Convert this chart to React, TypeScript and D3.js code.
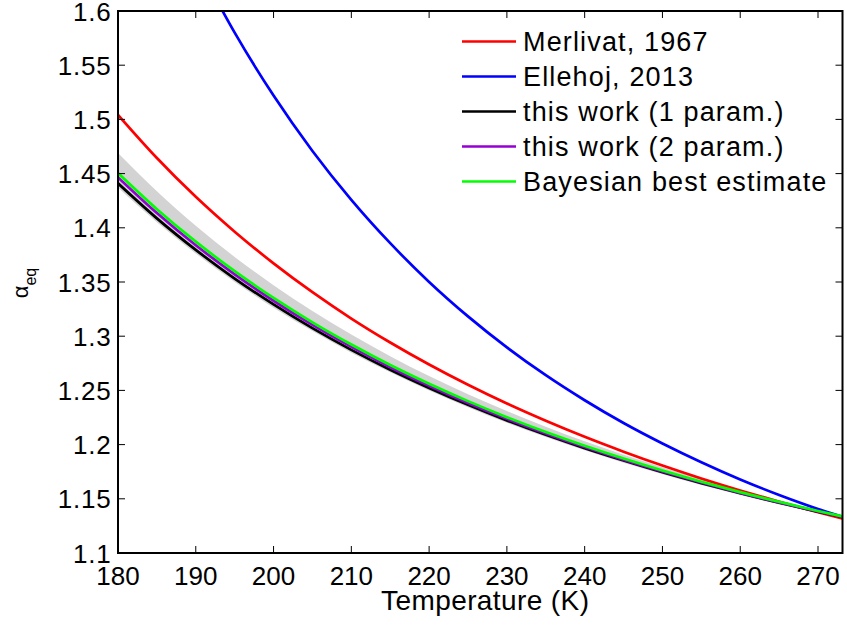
import React from "react";
import * as d3 from "d3";

const temps = [180, 185, 190, 195, 200, 205, 210, 215, 220, 225, 230, 235, 240, 245, 250, 255, 260, 265, 270, 273.15];
const merlivat = [1.5042, 1.4644, 1.4286, 1.3964, 1.3672, 1.3406, 1.3163, 1.2942, 1.2739, 1.2552, 1.2379, 1.2220, 1.2072, 1.1935, 1.1807, 1.1688, 1.1577, 1.1473, 1.1376, 1.1318];
const ellehoj = [1.6464, 1.5800, 1.5220, 1.4709, 1.4258, 1.3858, 1.3501, 1.3183, 1.2897, 1.2640, 1.2409, 1.2199, 1.2010, 1.1837, 1.1678, 1.1535, 1.1406, 1.1334];
const ellehojTemps = [190, 195, 200, 205, 210, 215, 220, 225, 230, 235, 240, 245, 250, 255, 260, 265, 270, 273.15];
const work1 = [1.4410, 1.4087, 1.3796, 1.3532, 1.3293, 1.3074, 1.2874, 1.2691, 1.2523, 1.2367, 1.2223, 1.2090, 1.1967, 1.1853, 1.1745, 1.1645, 1.1551, 1.1464, 1.1382, 1.1332];
const work2 = [1.4465, 1.4136, 1.3839, 1.3571, 1.3327, 1.3104, 1.2901, 1.2714, 1.2543, 1.2384, 1.2238, 1.2103, 1.1977, 1.1860, 1.1752, 1.1650, 1.1555, 1.1466, 1.1383, 1.1333];
const bayes = [1.4505, 1.4172, 1.3872, 1.3600, 1.3353, 1.3128, 1.2923, 1.2734, 1.2561, 1.2401, 1.2253, 1.2116, 1.1989, 1.1871, 1.1761, 1.1658, 1.1562, 1.1473, 1.1388, 1.1338];
const bandUpper = [1.4691, 1.4337, 1.4019, 1.3731, 1.3470, 1.3233, 1.3015, 1.2816, 1.2633, 1.2465, 1.2309, 1.2165, 1.2031, 1.1907, 1.1792, 1.1684, 1.1583, 1.1489, 1.1400, 1.1347];
const bandLower = [1.4371, 1.4051, 1.3763, 1.3501, 1.3263, 1.3047, 1.2848, 1.2667, 1.2499, 1.2345, 1.2202, 1.2070, 1.1948, 1.1833, 1.1727, 1.1628, 1.1535, 1.1448, 1.1367, 1.1318];

const xTicks = [180, 190, 200, 210, 220, 230, 240, 250, 260, 270];
const yTicks = [1.1, 1.15, 1.2, 1.25, 1.3, 1.35, 1.4, 1.45, 1.5, 1.55, 1.6];
const legendLabels = ["Merlivat, 1967", "Ellehoj, 2013", "this work (1 param.)", "this work (2 param.)", "Bayesian best estimate"];
const legendColors = ["#ff0000", "#0000ff", "#000000", "#9400d3", "#00ff00"];

const W = 847;
const H = 629;
const L = 118, R = 842.5, T = 11, B = 553;
const FONT = "'Liberation Sans', Arial, Helvetica, sans-serif";

export default function App() {
  const x = d3.scaleLinear().domain([180, 273.15]).range([L, R]);
  const y = d3.scaleLinear().domain([1.1, 1.6]).range([B, T]);

  const line = (xs: number[], ys: number[]) =>
    d3.line<number>().x((_, i) => x(xs[i])).y((d) => y(d)).curve(d3.curveMonotoneX)(ys) || "";

  const area = d3
    .area<number>()
    .x((t) => x(t))
    .y0((_, i) => y(bandLower[i]))
    .y1((_, i) => y(bandUpper[i]))
    .curve(d3.curveMonotoneX)(temps) || "";

  const series = [
    { xs: temps, ys: merlivat, c: legendColors[0] },
    { xs: ellehojTemps, ys: ellehoj, c: legendColors[1] },
    { xs: temps, ys: work1, c: legendColors[2] },
    { xs: temps, ys: work2, c: legendColors[3] },
    { xs: temps, ys: bayes, c: legendColors[4] },
  ];

  const tickLen = 7;

  return (
    <svg width={W} height={H} style={{ position: "absolute", left: 0, top: 0, background: "#fff" }} fontFamily={FONT}>
      <rect x={0} y={0} width={W} height={H} fill="#fff" />
      <defs>
        <clipPath id="plotclip">
          <rect x={L} y={T} width={R - L} height={B - T} />
        </clipPath>
      </defs>
      <g clipPath="url(#plotclip)">
        <path d={area} fill="#d3d3d3" stroke="none" />
        {series.map((s, i) => (
          <path key={i} d={line(s.xs, s.ys)} fill="none" stroke={s.c} strokeWidth={2.7} />
        ))}
      </g>
      {xTicks.map((t) => (
        <g key={"xt" + t}>
          <line x1={x(t)} x2={x(t)} y1={B} y2={B - tickLen} stroke="#000" strokeWidth={1} />
          <line x1={x(t)} x2={x(t)} y1={T} y2={T + tickLen} stroke="#000" strokeWidth={1} />
          <text x={x(t)} y={585} fontSize={26} textAnchor="middle" fill="#000">{t}</text>
        </g>
      ))}
      {yTicks.map((t) => (
        <g key={"yt" + t}>
          <line x1={L} x2={L + tickLen} y1={y(t)} y2={y(t)} stroke="#000" strokeWidth={1} />
          <line x1={R} x2={R - tickLen} y1={y(t)} y2={y(t)} stroke="#000" strokeWidth={1} />
          <text x={111.5} y={y(t) + 9.5} fontSize={26} letterSpacing={0.8} textAnchor="end" fill="#000">{String(t)}</text>
        </g>
      ))}
      <rect x={L} y={T} width={R - L} height={B - T} fill="none" stroke="#000" strokeWidth={2} />
      {legendLabels.map((lab, i) => {
        const ly = 41.5 + i * 35;
        return (
          <g key={lab}>
            <line x1={462} x2={516} y1={ly} y2={ly} stroke={legendColors[i]} strokeWidth={2.7} />
            <text x={523} y={ly + 9.5} fontSize={27} letterSpacing={1.15} fill="#000">{lab}</text>
          </g>
        );
      })}
      <text x={(L + R) / 2 + 5} y={610} fontSize={28} letterSpacing={0.4} textAnchor="middle" fill="#000">Temperature (K)</text>
      <text transform="translate(28,283) rotate(-90)" textAnchor="middle" fill="#000">
        <tspan fontSize={22}>α</tspan>
        <tspan fontSize={16} dy={8}>eq</tspan>
      </text>
    </svg>
  );
}
